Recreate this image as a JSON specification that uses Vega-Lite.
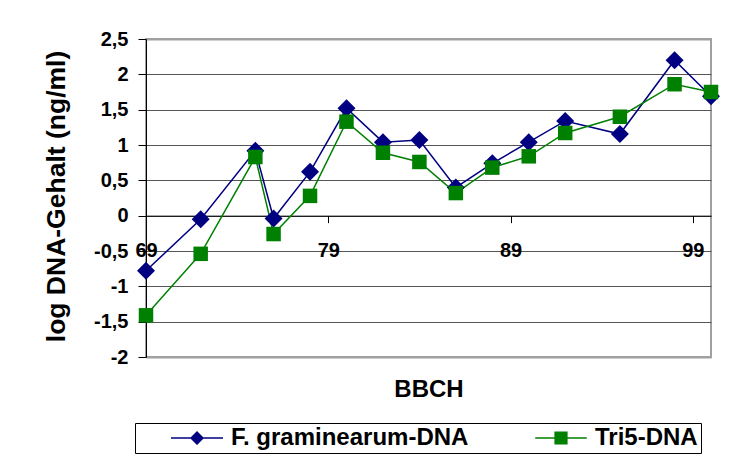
{
  "$schema": "https://vega.github.io/schema/vega-lite/v6.json",
  "width": 565,
  "height": 318,
  "autosize": {"type": "none"},
  "padding": {"left": 146, "top": 39, "right": 34, "bottom": 118},
  "background": "white",
  "config": {
    "font": "Liberation Sans",
    "view": {"stroke": "#a0a0a0", "strokeWidth": 2},
    "axis": {
      "labelFont": "Liberation Sans", "labelFontWeight": "bold", "labelColor": "black",
      "titleFont": "Liberation Sans", "titleFontWeight": "bold", "titleColor": "black",
      "domainColor": "black", "tickColor": "black", "domainWidth": 1, "tickWidth": 1
    }
  },
  "data": {
    "values": [
      {"bbch": 69, "series": "F. graminearum-DNA", "value": -0.78},
      {"bbch": 72, "series": "F. graminearum-DNA", "value": -0.05},
      {"bbch": 75, "series": "F. graminearum-DNA", "value": 0.92},
      {"bbch": 76, "series": "F. graminearum-DNA", "value": -0.04},
      {"bbch": 78, "series": "F. graminearum-DNA", "value": 0.62},
      {"bbch": 80, "series": "F. graminearum-DNA", "value": 1.52},
      {"bbch": 82, "series": "F. graminearum-DNA", "value": 1.04},
      {"bbch": 84, "series": "F. graminearum-DNA", "value": 1.07},
      {"bbch": 86, "series": "F. graminearum-DNA", "value": 0.40},
      {"bbch": 88, "series": "F. graminearum-DNA", "value": 0.74},
      {"bbch": 90, "series": "F. graminearum-DNA", "value": 1.04},
      {"bbch": 92, "series": "F. graminearum-DNA", "value": 1.34},
      {"bbch": 95, "series": "F. graminearum-DNA", "value": 1.155},
      {"bbch": 98, "series": "F. graminearum-DNA", "value": 2.2},
      {"bbch": 100, "series": "F. graminearum-DNA", "value": 1.69},
      {"bbch": 69, "series": "Tri5-DNA", "value": -1.41},
      {"bbch": 72, "series": "Tri5-DNA", "value": -0.54},
      {"bbch": 75, "series": "Tri5-DNA", "value": 0.83},
      {"bbch": 76, "series": "Tri5-DNA", "value": -0.26},
      {"bbch": 78, "series": "Tri5-DNA", "value": 0.28},
      {"bbch": 80, "series": "Tri5-DNA", "value": 1.33},
      {"bbch": 82, "series": "Tri5-DNA", "value": 0.89},
      {"bbch": 84, "series": "Tri5-DNA", "value": 0.76},
      {"bbch": 86, "series": "Tri5-DNA", "value": 0.32},
      {"bbch": 88, "series": "Tri5-DNA", "value": 0.68},
      {"bbch": 90, "series": "Tri5-DNA", "value": 0.84},
      {"bbch": 92, "series": "Tri5-DNA", "value": 1.17},
      {"bbch": 95, "series": "Tri5-DNA", "value": 1.40},
      {"bbch": 98, "series": "Tri5-DNA", "value": 1.86},
      {"bbch": 100, "series": "Tri5-DNA", "value": 1.75}
    ]
  },
  "encoding": {
    "x": {
      "field": "bbch", "type": "quantitative",
      "scale": {"domain": [69, 100], "nice": false, "zero": false},
      "axis": {
        "values": [69, 79, 89, 99], "offset": -141.33, "grid": false,
        "tickSize": 7, "labelFontSize": 20, "labelBaseline": "alphabetic", "labelPadding": 34,
        "labelFlush": false, "labelOverlap": false,
        "title": "BBCH", "titleFontSize": 24, "titleBaseline": "alphabetic", "titleY": 181
      }
    },
    "y": {
      "field": "value", "type": "quantitative",
      "scale": {"domain": [-2, 2.5], "nice": false, "zero": false},
      "axis": {
        "values": [-2, -1.5, -1, -0.5, 0, 0.5, 1, 1.5, 2, 2.5],
        "labelExpr": "replace(toString(datum.value), '.', ',')",
        "grid": true,
        "gridColor": {"condition": {"test": "datum.value == -2 || datum.value == 2.5", "value": "#a0a0a0"}, "value": "#555555"},
        "gridWidth": {"condition": {"test": "datum.value == -2 || datum.value == 2.5", "value": 2}, "value": 1},
        "tickSize": 8, "labelPadding": 10, "labelFontSize": 20,
        "title": "log DNA-Gehalt (ng/ml)", "titleFontSize": 26.5, "titleAngle": -90,
        "titleX": -82, "titleY": 157, "titleBaseline": "alphabetic", "titleAlign": "center"
      }
    },
    "color": {"field": "series", "type": "nominal",
      "scale": {"domain": ["F. graminearum-DNA", "Tri5-DNA"], "range": ["#000080", "#008000"]},
      "legend": {
        "title": null, "orient": "none", "legendX": -11, "legendY": 384,
        "direction": "horizontal", "columns": 2, "padding": 3,
        "strokeColor": "black", "fillColor": "white",
        "labelFont": "Liberation Sans", "labelFontSize": 24, "labelFontWeight": "bold", "labelColor": "black",
        "labelLimit": 400, "labelOffset": 22, "columnPadding": 33, "symbolOffset": 47,
        "symbolStrokeWidth": 0, "symbolSize": 100, "symbolOpacity": 1,
        "encode": {"symbols": {"update": {
          "shape": {"signal": "datum.value === 'Tri5-DNA' ? 'M-5.16,-0.15H5.16V0.15H-5.16ZM-1.32,-1.32H1.32V1.32H-1.32Z' : 'M-5.2,-0.15H5.2V0.15H-5.2ZM-1.4,0L0,-1.4L1.4,0L0,1.4Z'"},
          "fill": {"signal": "datum.value === 'Tri5-DNA' ? '#008000' : '#000080'"},
          "strokeWidth": {"value": 0}
        }}}
      }
    }
  },
  "layer": [
    {
      "mark": {"type": "line", "strokeWidth": 1.5}
    },
    {
      "mark": {"type": "point", "filled": true, "opacity": 1, "strokeWidth": 0},
      "encoding": {
        "shape": {"condition": {"test": "datum.series === 'Tri5-DNA'", "value": "square"}, "value": "diamond"},
        "size": {"condition": {"test": "datum.series === 'Tri5-DNA'", "value": 210}, "value": 324}
      }
    }
  ]
}
